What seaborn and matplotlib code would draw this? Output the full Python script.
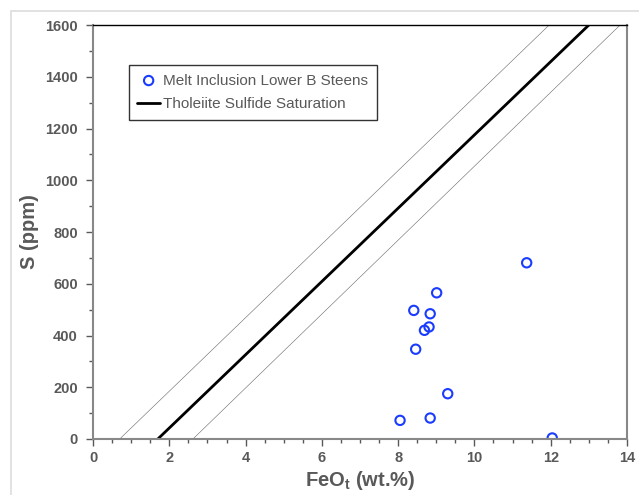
import matplotlib
matplotlib.use("Agg")
import matplotlib.pyplot as plt
import seaborn as sns
import pandas as pd
from matplotlib.patches import Rectangle
from matplotlib.ticker import MultipleLocator

# melt inclusion data
feo = [11.37, 9.01, 8.41, 8.84, 8.81, 8.69, 8.46, 9.30, 8.05, 8.84, 12.04]
s_ppm = [681, 565, 497, 484, 433, 420, 347, 175, 72, 81, 4]

# tholeiite sulfide saturation line and its envelope
sat_feo = [1.7, 13.0]
sat_s = [0, 1600]
upper_feo = [0.7, 11.96]
lower_feo = [2.62, 13.82]
env_s = [0, 1600]

sns.set_style("white")
plt.rcParams["font.family"] = ["Liberation Sans", "DejaVu Sans"]
gray = "#595959"

df = pd.DataFrame({"FeO": feo, "S": s_ppm})

fig = plt.figure(figsize=(6.39, 4.95), dpi=100)
ax = fig.add_axes([93 / 639, 1 - 439 / 495, (627 - 93) / 639, (439 - 25) / 495])
fig.patches.append(Rectangle((11 / 639, -0.05), 1.1, 1.0 - 11 / 495 + 0.05,
                             transform=fig.transFigure, fill=False,
                             edgecolor="#dddddd", lw=1.2))

sns.lineplot(x=upper_feo, y=env_s, ax=ax, color="#666666", lw=0.4, legend=False)
sns.lineplot(x=lower_feo, y=env_s, ax=ax, color="#666666", lw=0.4, legend=False)
sns.lineplot(x=sat_feo, y=sat_s, ax=ax, color="black", lw=2,
             label="Tholeiite Sulfide Saturation")
sns.scatterplot(data=df, x="FeO", y="S", ax=ax, marker="o", s=45,
                facecolor="none", edgecolor="#1a3cff", linewidth=1.5,
                label="Melt Inclusion Lower B Steens")

ax.set_xlim(0, 14)
ax.set_ylim(0, 1600)
ax.xaxis.set_major_locator(MultipleLocator(2))
ax.xaxis.set_minor_locator(MultipleLocator(0.5))
ax.yaxis.set_major_locator(MultipleLocator(200))
ax.yaxis.set_minor_locator(MultipleLocator(100))
ax.tick_params(which="both", direction="out", colors=gray, labelcolor=gray,
               labelsize=10.5)
ax.tick_params(which="major", length=5, width=1)
ax.tick_params(which="minor", length=3, width=1)
ax.tick_params(axis="x", bottom=True, which="both")
ax.tick_params(axis="y", left=True, which="both", pad=6)
for lab in ax.get_xticklabels() + ax.get_yticklabels():
    lab.set_fontweight("bold")

for side in ["left", "bottom", "right"]:
    ax.spines[side].set_color("#888888")
    ax.spines[side].set_linewidth(1.5)
ax.spines["top"].set_color("black")
ax.spines["top"].set_linewidth(1)

ax.set_xlabel("FeO$_\\mathregular{t}$ (wt.%)", fontsize=14.5, fontweight="bold",
              color=gray, labelpad=3)
ax.set_ylabel("S (ppm)", fontsize=14.5, fontweight="bold", color=gray, labelpad=4)

handles, labels = ax.get_legend_handles_labels()
order = [labels.index("Melt Inclusion Lower B Steens"),
         labels.index("Tholeiite Sulfide Saturation")]
leg = ax.legend([handles[i] for i in order], [labels[i] for i in order],
                loc="upper left", bbox_to_anchor=(0.067, 0.903),
                borderaxespad=0, fontsize=11, frameon=True, fancybox=False,
                edgecolor="black", handlelength=1.5, handletextpad=0.2,
                labelspacing=0.65, borderpad=0.55)
leg.get_frame().set_linewidth(1)
for t in leg.get_texts():
    t.set_color(gray)

fig.savefig("out.png", dpi=100)
